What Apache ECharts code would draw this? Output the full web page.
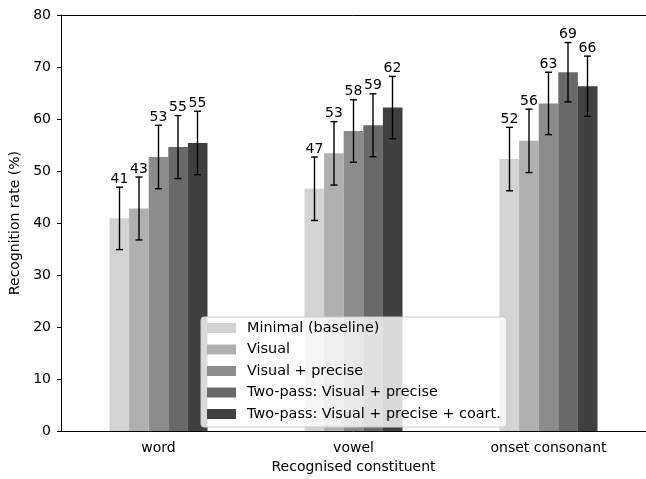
<!DOCTYPE html>
<html>
<head>
<meta charset="utf-8">
<script src="https://cdn.jsdelivr.net/npm/echarts@6/dist/echarts.min.js"></script>
<style>
html,body{margin:0;padding:0;background:#fff;}
#chart{width:646px;height:479px;}
</style>
</head>
<body>
<div id="chart"></div>
<script>
const categories = ['word', 'vowel', 'onset consonant'];
const methods = ['Minimal (baseline)', 'Visual', 'Visual + precise', 'Two-pass: Visual + precise', 'Two-pass: Visual + precise + coart.'];
const minimalVals = [40.9, 46.6, 52.3];
const visualVals = [42.8, 53.4, 55.8];
const visualPreciseVals = [52.7, 57.7, 63.0];
const twoPassVals = [54.6, 58.8, 69.0];
const twoPassCoartVals = [55.4, 62.2, 66.3];
const minimalErr = [6.0, 6.1, 6.1];
const visualErr = [6.05, 6.1, 6.1];
const visualPreciseErr = [6.1, 6.0, 6.0];
const twoPassErr = [6.05, 6.05, 5.7];
const twoPassCoartErr = [6.1, 6.0, 5.8];
const yTicks = [0, 10, 20, 30, 40, 50, 60, 70, 80];

const seriesValues = [minimalVals, visualVals, visualPreciseVals, twoPassVals, twoPassCoartVals];
const seriesErrs = [minimalErr, visualErr, visualPreciseErr, twoPassErr, twoPassCoartErr];
const colors = ['#d3d3d3', '#b0b0b0', '#8c8c8c', '#696969', '#404040'];
const FONT = 'DejaVu Sans';
const FS = 14;
const LFS = 14.4;
const BAR_FRAC = 0.1; // bar width as fraction of category spacing

const chart = echarts.init(document.getElementById('chart'), null, {renderer: 'canvas'});

const series = [];
methods.forEach((m, s) => {
  series.push({
    name: m,
    type: 'bar',
    data: seriesValues[s],
    barWidth: 19.6,
    barGap: '0%',
    itemStyle: {color: colors[s]},
    z: 2
  });
});
methods.forEach((m, s) => {
  series.push({
    name: 'err_' + s,
    type: 'custom',
    data: categories.map((c, i) => [i, seriesValues[s][i], seriesErrs[s][i]]),
    encode: {x: 0, y: 1},
    z: 5,
    renderItem: function (params, api) {
      const ci = api.value(0), v = api.value(1), e = api.value(2);
      const catW = api.size([1, 0])[0];
      const dx = (s - 2) * catW * BAR_FRAC;
      const top = api.coord([ci, v + e]);
      const bot = api.coord([ci, v - e]);
      const x = top[0] + dx;
      const cap = 3.5;
      const st = {stroke: '#000', lineWidth: 1.4};
      return {
        type: 'group',
        children: [
          {type: 'line', shape: {x1: x, y1: top[1], x2: x, y2: bot[1]}, style: st},
          {type: 'line', shape: {x1: x - cap, y1: top[1], x2: x + cap, y2: top[1]}, style: st},
          {type: 'line', shape: {x1: x - cap, y1: bot[1], x2: x + cap, y2: bot[1]}, style: st},
          {type: 'text', style: {text: String(Math.round(v)), x: x, y: top[1] - 1, textAlign: 'center', textVerticalAlign: 'bottom', fontFamily: FONT, fontSize: FS, fill: '#000'}}
        ]
      };
    }
  });
});

const option = {
  animation: false,
  backgroundColor: '#fff',
  textStyle: {fontFamily: FONT},
  grid: {left: 61, right: -3, top: 15, bottom: 45, containLabel: false},
  legend: {
    data: methods,
    orient: 'vertical',
    left: 201,
    top: 317,
    itemWidth: 29,
    itemHeight: 10,
    itemGap: 7.5,
    icon: 'rect',
    padding: [4, 6, 6, 6],
    backgroundColor: 'rgba(255,255,255,0.8)',
    borderColor: '#cccccc',
    borderWidth: 1,
    borderRadius: 3,
    textStyle: {fontFamily: FONT, fontSize: LFS, color: '#000', lineHeight: 14, padding: [0, 0, 0, 6]}
  },
  xAxis: [{
    type: 'category',
    data: categories,
    position: 'bottom',
    axisLine: {lineStyle: {color: '#000', width: 1}},
    axisTick: {alignWithLabel: true, length: 4, lineStyle: {color: '#000'}},
    axisLabel: {fontFamily: FONT, fontSize: FS, color: '#000', margin: 10},
    name: 'Recognised constituent',
    nameLocation: 'middle',
    nameGap: 27,
    nameTextStyle: {fontFamily: FONT, fontSize: FS, color: '#000'}
  }, {
    type: 'category',
    data: categories,
    position: 'top',
    axisLine: {lineStyle: {color: '#000', width: 1}},
    axisTick: {show: false},
    axisLabel: {show: false}
  }],
  yAxis: {
    type: 'value',
    min: yTicks[0],
    max: yTicks[yTicks.length - 1],
    interval: 10,
    axisLine: {show: true, lineStyle: {color: '#000', width: 1}},
    axisTick: {show: true, length: 4, lineStyle: {color: '#000'}},
    splitLine: {show: false},
    axisLabel: {fontFamily: FONT, fontSize: FS, color: '#000', margin: 10},
    name: 'Recognition rate (%)',
    nameLocation: 'middle',
    nameGap: 35,
    nameTextStyle: {fontFamily: FONT, fontSize: FS, color: '#000'}
  },
  series: series
};
chart.setOption(option);
</script>
</body>
</html>
